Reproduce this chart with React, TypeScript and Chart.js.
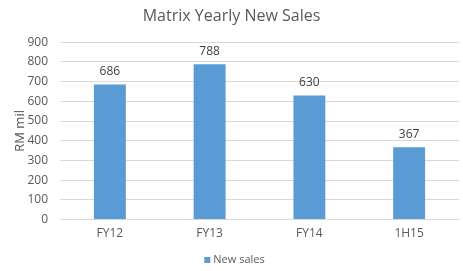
import React, { useEffect, useRef } from "react";
import { Chart, registerables } from "chart.js";

Chart.register(...registerables);

const categories = ["FY12", "FY13", "FY14", "1H15"];
const newSales = [686, 788, 630, 367];
const seriesName = "New sales";
const titleText = "Matrix Yearly New Sales";
const yAxisTitle = "RM mil";

const FONT = "'Open Sans', 'Liberation Sans', sans-serif";
const BAR_COLOR = "#5B9BD5";
const TEXT_COLOR = "#595959";

const extrasPlugin = {
  id: "extras",
  afterDatasetsDraw(chart: any) {
    const ctx = chart.ctx;
    const meta = chart.getDatasetMeta(0);
    const area = chart.chartArea;
    ctx.save();
    // data labels
    ctx.fillStyle = "#404040";
    ctx.font = `12px ${FONT}`;
    ctx.textAlign = "center";
    ctx.textBaseline = "middle";
    meta.data.forEach((bar: any, i: number) => {
      ctx.fillText(String(chart.data.datasets[0].data[i]), bar.x, bar.y - 13);
    });
    // y axis title
    ctx.save();
    ctx.translate(20, (area.top + area.bottom) / 2);
    ctx.rotate(-Math.PI / 2);
    ctx.fillStyle = TEXT_COLOR;
    ctx.font = `13px ${FONT}`;
    ctx.textAlign = "center";
    ctx.textBaseline = "middle";
    ctx.fillText(yAxisTitle, 0, 0);
    ctx.restore();
    // legend
    ctx.font = `11px ${FONT}`;
    const label = chart.data.datasets[0].label;
    const tw = ctx.measureText(label).width;
    const box = 6;
    const gap = 3;
    const total = box + gap + tw;
    const cx = chart.width / 2 + 3;
    const x0 = cx - total / 2;
    const ly = 260;
    ctx.fillStyle = BAR_COLOR;
    ctx.fillRect(x0, ly - box / 2, box, box);
    ctx.fillStyle = TEXT_COLOR;
    ctx.textAlign = "left";
    ctx.textBaseline = "middle";
    ctx.fillText(label, x0 + box + gap, ly);
    ctx.restore();
  },
};

export default function App() {
  const ref = useRef<HTMLCanvasElement>(null);
  useEffect(() => {
    document.body.style.margin = "0";
    const chart = new Chart(ref.current!, {
      type: "bar",
      data: {
        labels: categories,
        datasets: [
          {
            label: seriesName,
            data: newSales,
            backgroundColor: BAR_COLOR,
            categoryPercentage: 1,
            barPercentage: 0.32,
          },
        ],
      },
      options: {
        animation: false,
        responsive: false,
        layout: { padding: { left: 4, right: 4, top: 0, bottom: 31 } },
        plugins: {
          title: {
            display: true,
            text: titleText,
            color: TEXT_COLOR,
            font: { family: FONT, size: 16, weight: "normal" },
            padding: { top: 7, bottom: 16 },
          },
          legend: { display: false },
          tooltip: { enabled: false },
        },
        scales: {
          x: {
            grid: { display: false },
            border: { color: "#D9D9D9" },
            ticks: { color: TEXT_COLOR, font: { family: FONT, size: 12 }, padding: -1 },
          },
          y: {
            min: 0,
            max: 900,
            afterFit: (s: any) => {
              s.width = 56;
            },
            ticks: {
              stepSize: 100,
              color: TEXT_COLOR,
              font: { family: FONT, size: 12 },
              padding: 12,
            },
            grid: { color: "#D9D9D9", drawTicks: false },
            border: { display: false },
          },
        },
      },
      plugins: [extrasPlugin],
    });
    return () => chart.destroy();
  }, []);
  return <canvas ref={ref} width={463} height={271} style={{ display: "block" }} />;
}
